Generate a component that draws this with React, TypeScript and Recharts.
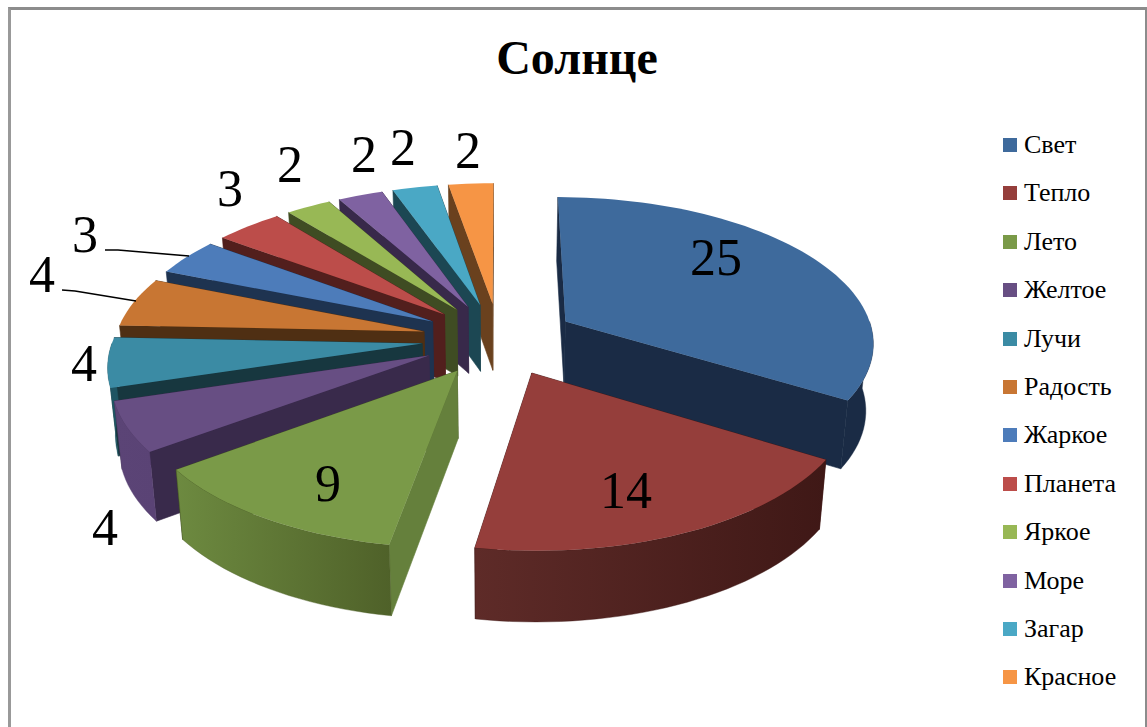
import React from "react";
import { PieChart, Pie, Legend } from "recharts";

// Word association survey for "Солнце": answers and how many people gave them.
const categories = ["Свет", "Тепло", "Лето", "Желтое", "Лучи", "Радость", "Жаркое", "Планета", "Яркое", "Море", "Загар", "Красное"];
const counts = [25, 14, 9, 4, 4, 4, 3, 3, 2, 2, 2, 2];

const topColors = ["#3e6a9c", "#953e3b", "#7a9a48", "#674e83", "#3b8ba4", "#c87633", "#4d7cba", "#bc4d4a", "#98b855", "#7f62a1", "#4aa8c5", "#f69545"];
const cutColors = ["#1a2b45", "#421816", "#3e4b23", "#392a4b", "#17373f", "#4f2f13", "#1e3350", "#521f1d", "#3f4c23", "#38294a", "#1c4753", "#6a411e"];
const rimNearColors = ["#1a2b45", "#5e2b28", "#6d8a40", "#5b4476", "#1f5563", "#4f2f13", "#1e3350", "#521f1d", "#3f4c23", "#38294a", "#1c4753", "#6a411e"];
const rimFarColors = ["#1a2b45", "#3f1816", "#4f6129", "#5a4375", "#1f5563", "#4f2f13", "#1e3350", "#521f1d", "#3f4c23", "#38294a", "#1c4753", "#6a411e"];

// Label centres and leader lines, keyed by category index.
const labelCentres: [number, number][] = [[716, 258], [626, 491], [328, 484], [105, 528], [84, 364], [42, 275], [85, 235], [230, 189], [290, 165], [364, 155], [403, 148], [468, 151]];
const leaderLines: Record<number, string> = {
  5: "62,290 75,291 136,301",
  6: "105,250 118,250 189,256",
};

const total = counts.reduce((a, b) => a + b, 0);
const order = [0, 11, 10, 9, 8, 7, 6, 5, 4, 3, 2, 1];
// Sectors run anticlockwise so later ones are painted over earlier ones, back to front.
const drawData = order.map((i) => ({ name: categories[i], value: counts[i], idx: i }));
const firstSweep = (counts[0] / total) * 360;

// Perspective model of the tilted disc
const FLATTEN = 0.469;
const EXPLODE = 0.25;
const PERSPECTIVE = 0.13;
const THICKNESS = 67;
const LOWER_SCALE = 0.98;

const rad = (d: number) => (d * Math.PI) / 180;

function project(r: number, theta: number, mid: number, cx: number, cy: number, R: number, lower: boolean): [number, number] {
  const X = r * Math.sin(rad(theta)) + EXPLODE * Math.sin(rad(mid));
  const Z = r * Math.cos(rad(theta)) + EXPLODE * Math.cos(rad(mid));
  const s = 1 / (1 + PERSPECTIVE * Z);
  let x = X * R * s;
  let y = -Z * R * FLATTEN * s;
  if (lower) {
    x *= LOWER_SCALE;
    y += THICKNESS * Math.pow(s, 0.35);
  }
  return [cx + x, cy + y];
}

const toPath = (pts: [number, number][]) =>
  "M" + pts.map((p) => `${p[0].toFixed(1)},${p[1].toFixed(1)}`).join("L") + "Z";

function arc(from: number, to: number, mid: number, cx: number, cy: number, R: number, lower: boolean) {
  const n = Math.max(2, Math.ceil(Math.abs(to - from) / 2));
  const pts: [number, number][] = [];
  for (let i = 0; i <= n; i++) pts.push(project(1, from + ((to - from) * i) / n, mid, cx, cy, R, lower));
  return pts;
}

function shade(hex: string, f: number) {
  const n = parseInt(hex.slice(1), 16);
  const c = [(n >> 16) & 255, (n >> 8) & 255, n & 255].map((v) => Math.round(v * f));
  return `rgb(${c[0]},${c[1]},${c[2]})`;
}

function Slice3D(props: any) {
  const { cx, cy, outerRadius: R, startAngle, endAngle, payload } = props;
  const idx: number = payload.idx;
  const from = 90 - Math.max(startAngle, endAngle);
  const to = 90 - Math.min(startAngle, endAngle);
  const t0 = from < -0.01 ? from + 360 : from;
  const t1 = t0 + (to - from);
  const mid = (t0 + t1) / 2;

  const apexTop = project(0, 0, mid, cx, cy, R, false);
  const apexLow = project(0, 0, mid, cx, cy, R, true);
  const wall = (theta: number) =>
    toPath([apexTop, project(1, theta, mid, cx, cy, R, false), project(1, theta, mid, cx, cy, R, true), apexLow]);

  // The wall facing the light reads as a muted version of the top colour.
  const startLit = Math.sin(rad(t0 - 90)) > 0.6;
  const startFill = startLit ? shade(topColors[idx], 0.83) : cutColors[idx];

  const rimFrom = Math.max(t0, 90);
  const rimTo = Math.min(t1, 270);
  const hasRim = rimTo > rimFrom;
  const upper = hasRim ? arc(rimFrom, rimTo, mid, cx, cy, R, false) : [];
  const lower = hasRim ? arc(rimFrom, rimTo, mid, cx, cy, R, true) : [];
  const gradId = `rim-${idx}`;

  // A hairline stroke in the fill colour closes the seams between adjoining faces.
  return (
    <g>
      <defs>
        <linearGradient id={gradId} x1="0" y1="0" x2="1" y2="0">
          <stop offset="0" stopColor={rimNearColors[idx]} />
          <stop offset="1" stopColor={rimFarColors[idx]} />
        </linearGradient>
      </defs>
      <path d={wall(t1)} fill={cutColors[idx]} stroke={cutColors[idx]} strokeWidth={0.6} />
      <path d={wall(t0)} fill={startFill} stroke={startFill} strokeWidth={0.6} />
      {hasRim && <path d={toPath([...upper, ...lower.reverse()])} fill={`url(#${gradId})`} stroke={rimFarColors[idx]} strokeWidth={0.4} />}
      <path d={toPath([apexTop, ...arc(t0, t1, mid, cx, cy, R, false)])} fill={topColors[idx]} />
    </g>
  );
}

function ValueLabel(props: any) {
  const idx: number = props.payload?.idx ?? props.idx;
  const [x, y] = labelCentres[idx];
  const size = 52;
  return (
    <g>
      {leaderLines[idx] && <polyline points={leaderLines[idx]} fill="none" stroke="#000" strokeWidth={1.6} />}
      <text x={x} y={y + size * 0.335} textAnchor="middle" fontFamily="'Liberation Serif'" fontSize={size} fill="#000">
        {props.value}
      </text>
    </g>
  );
}

function LegendList() {
  return (
    <div style={{ position: "relative", width: 140, height: 560, fontFamily: "'Liberation Serif'", fontSize: 26, color: "#000" }}>
      {categories.map((name, i) => (
        <div key={name} style={{ position: "absolute", left: 0, top: i * 48.4, height: 28, display: "flex", alignItems: "center", whiteSpace: "nowrap" }}>
          <span style={{ display: "inline-block", width: 14, height: 14, background: topColors[i], marginRight: 7 }} />
          {name}
        </div>
      ))}
    </div>
  );
}

export default function App() {
  return (
    <div style={{ position: "fixed", left: 0, top: 0, width: 1147, height: 727, overflow: "hidden", background: "#fff" }}>
      <PieChart width={1147} height={727} margin={{ top: 0, right: 0, bottom: 0, left: 0 }}>
        <text x={577} y={74} textAnchor="middle" fontFamily="'Liberation Serif'" fontWeight="bold" fontSize={48} fill="#000">
          Солнце
        </text>
        <Pie
          data={drawData}
          dataKey="value"
          nameKey="name"
          cx={499}
          cy={339}
          outerRadius={309}
          startAngle={90 - firstSweep}
          endAngle={450 - firstSweep}
          stroke="none"
          isAnimationActive={false}
          shape={Slice3D}
          label={ValueLabel}
          labelLine={false}
        />
        <Legend
          content={<LegendList />}
          layout="vertical"
          align="right"
          verticalAlign="top"
          wrapperStyle={{ position: "absolute", left: 1003, top: 131, width: 140 }}
        />
      </PieChart>
      <div
        style={{
          position: "absolute",
          left: 8,
          top: 7,
          width: 1134,
          height: 740,
          borderTop: "3px solid #8c8c8c",
          borderLeft: "3px solid #999",
          borderRight: "3px solid #8c8c8c",
          pointerEvents: "none",
        }}
      />
    </div>
  );
}
